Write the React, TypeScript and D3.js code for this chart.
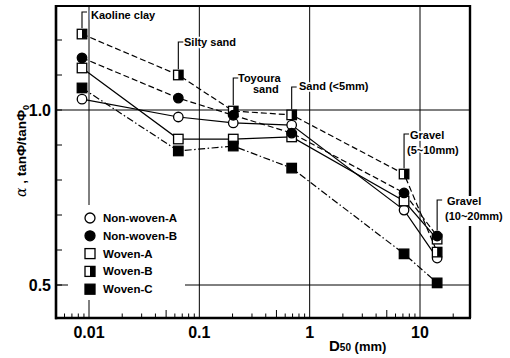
import React from 'react';
import * as d3 from 'd3';

// ---------- data ----------
const soilLabelLines = [
  ['Kaoline clay'],
  ['Silty sand'],
  ['Toyoura', 'sand'],
  ['Sand (<5mm)'],
  ['Gravel', '(5~10mm)'],
  ['Gravel', '(10~20mm)'],
];
const d50 = [0.00864, 0.0645, 0.203, 0.687, 7.17, 14.3];

const seriesNames = ['Non-woven-A', 'Non-woven-B', 'Woven-A', 'Woven-B', 'Woven-C'];
const nonWovenA = [1.031, 0.98, 0.963, 0.957, 0.714, 0.577];
const nonWovenB = [1.149, 1.034, 0.985, 0.934, 0.763, 0.64];
const wovenA = [1.12, 0.917, 0.917, 0.923, 0.74, 0.631];
const wovenB = [1.217, 1.1, 0.997, 0.986, 0.817, 0.594];
const wovenC = [1.063, 0.883, 0.897, 0.834, 0.589, 0.506];

const xTicks = [0.01, 0.1, 1, 10];
const xTickLabels = ['0.01', '0.1', '1', '10'];
const yTicks = [0.5, 1.0];
const yTickLabels = ['0.5', '1.0'];

// ---------- layout ----------
const W = 510, H = 358;
const L = 56, R = 470, T = 6, B = 318;
const FONT = '"Liberation Sans", Arial, Helvetica, sans-serif';

const x = d3.scaleLog().domain([0.01, 10]).range([89, 420]);
const y = d3.scaleLinear().domain([0.5, 1.0]).range([285, 110]);

type Marker = 'circleOpen' | 'circleFilled' | 'squareOpen' | 'squareHalf' | 'squareFilled';
const seriesValues = [nonWovenA, nonWovenB, wovenA, wovenB, wovenC];
const seriesMarker: Marker[] = ['circleOpen', 'circleFilled', 'squareOpen', 'squareHalf', 'squareFilled'];
const seriesDash = ['none', '6,3', 'none', '6,3', '7,2.5,1.5,2.5'];
const drawOrder = [0, 2, 3, 1, 4];

const labelLayout = [
  { hookTop: 12, tx: [91], ty: [19] },
  { hookTop: 42, tx: [184], ty: [46] },
  { hookTop: 78, tx: [238, 253], ty: [82, 93] },
  { hookTop: 87, tx: [299], ty: [90] },
  { hookTop: 134, tx: [410, 407], ty: [139, 154] },
  { hookTop: 200, tx: [447, 445], ty: [205, 220] },
];

function MarkerShape({ kind, cx, cy, s }: { kind: Marker; cx: number; cy: number; s: number }) {
  const h = s / 2;
  const sw = 1.3;
  if (kind === 'circleOpen')
    return <circle cx={cx} cy={cy} r={h} fill="#fff" stroke="#000" strokeWidth={sw} />;
  if (kind === 'circleFilled')
    return <circle cx={cx} cy={cy} r={h} fill="#000" stroke="#000" strokeWidth={sw} />;
  if (kind === 'squareOpen')
    return <rect x={cx - h} y={cy - h} width={s} height={s} fill="#fff" stroke="#000" strokeWidth={sw} />;
  if (kind === 'squareFilled')
    return <rect x={cx - h} y={cy - h} width={s} height={s} fill="#000" stroke="#000" strokeWidth={sw} />;
  return (
    <g>
      <rect x={cx - h} y={cy - h} width={s} height={s} fill="#fff" stroke="#000" strokeWidth={sw} />
      <rect x={cx} y={cy - h} width={h} height={s} fill="#000" />
    </g>
  );
}

export default function App() {
  const line = d3
    .line<number>()
    .x((_, i) => x(d50[i]))
    .y((v) => y(v));

  const minor: { v: number; big: boolean }[] = [];
  for (let e = -3; e <= 1; e++) {
    for (let m = 2; m <= 9; m++) {
      const v = m * Math.pow(10, e);
      const px = x(v);
      if (px > L + 1 && px < R - 1) minor.push({ v, big: m === 5 });
    }
  }
  const yMinor = d3.range(0.5, 1.31, 0.1).filter((v) => y(v) > T + 2 && y(v) < B - 2);

  const S = 9.5;
  const halo = { paintOrder: 'stroke' as const, stroke: '#fff', strokeWidth: 3.5, strokeLinejoin: 'round' as const };

  return (
    <svg width={W} height={H} style={{ position: 'absolute', left: 0, top: 0, background: '#fff' }}>
      <rect x={0} y={0} width={W} height={H} fill="#fff" />
      {xTicks.map((t) => (
        <line key={'gx' + t} x1={x(t)} x2={x(t)} y1={T} y2={B} stroke="#000" strokeWidth={1} />
      ))}
      {yTicks.map((t) => (
        <line key={'gy' + t} x1={L} x2={R} y1={y(t)} y2={y(t)} stroke="#000" strokeWidth={1} />
      ))}
      {minor.map((m, i) => (
        <line key={'mx' + i} x1={x(m.v)} x2={x(m.v)} y1={B} y2={B - (m.big ? 8 : 4.5)} stroke="#000" strokeWidth={1} />
      ))}
      {yMinor.map((v, i) => (
        <line key={'my' + i} x1={L} x2={L + 6} y1={y(v)} y2={y(v)} stroke="#000" strokeWidth={1} />
      ))}
      <rect x={68} y={205} width={117} height={95} fill="#fff" />
      {drawOrder.map((si) => (
        <path
          key={'l' + si}
          d={line(seriesValues[si]) || ''}
          fill="none"
          stroke="#000"
          strokeWidth={1.2}
          strokeDasharray={seriesDash[si] === 'none' ? undefined : seriesDash[si]}
        />
      ))}
      {drawOrder.map((si) => (
        <g key={'m' + si}>
          {seriesValues[si].map((v, i) => (
            <MarkerShape key={i} kind={seriesMarker[si]} cx={x(d50[i])} cy={y(v)} s={S} />
          ))}
        </g>
      ))}
      {soilLabelLines.map((lines, i) => {
        const lay = labelLayout[i];
        const px = x(d50[i]);
        const topVal = Math.max(...seriesValues.map((s) => s[i]));
        const topY = y(topVal) - S / 2 - 1;
        return (
          <g key={'sl' + i}>
            {lines.map((ln, j) => (
              <text
                key={j}
                x={lay.tx[j]}
                y={lay.ty[j]}
                fontFamily={FONT}
                fontWeight="bold"
                fontSize={11}
                fill="#000"
                style={halo}
              >
                {ln}
              </text>
            ))}
            <path
              d={`M${px},${topY} V${lay.hookTop} H${px + 5}`}
              fill="none"
              stroke="#000"
              strokeWidth={1.1}
            />
          </g>
        );
      })}
      <line x1={L} x2={R} y1={T} y2={T} stroke="#000" strokeWidth={2.2} />
      <line x1={L} x2={L} y1={T - 1} y2={B + 1.2} stroke="#000" strokeWidth={2.6} />
      <line x1={L - 1} x2={R + 1} y1={B} y2={B} stroke="#000" strokeWidth={2.6} />
      <line x1={R} x2={R} y1={T - 1} y2={196} stroke="#000" strokeWidth={2.4} />
      <line x1={R} x2={R} y1={226} y2={B} stroke="#000" strokeWidth={2.4} />
      {seriesNames.map((n, i) => {
        const ly = 218 + i * 17.8;
        return (
          <g key={'lg' + i}>
            <MarkerShape kind={seriesMarker[i]} cx={90} cy={ly} s={10} />
            <text x={103} y={ly + 4} fontFamily={FONT} fontWeight="bold" fontSize={11.5} fill="#000">
              {n}
            </text>
          </g>
        );
      })}
      {xTicks.map((t, i) => (
        <text
          key={'xt' + t}
          x={x(t)}
          y={338}
          textAnchor="middle"
          fontFamily={FONT}
          fontWeight="bold"
          fontSize={16}
          fill="#000"
        >
          {xTickLabels[i]}
        </text>
      ))}
      {yTicks.map((t, i) => (
        <text
          key={'yt' + t}
          x={51}
          y={y(t) + 6}
          textAnchor="end"
          fontFamily={FONT}
          fontWeight="bold"
          fontSize={16}
          fill="#000"
        >
          {yTickLabels[i]}
        </text>
      ))}
      <text x={329} y={351} fontFamily={FONT} fontWeight="bold" fill="#000">
        <tspan fontSize={15}>D</tspan>
        <tspan fontSize={10}>50</tspan>
        <tspan fontSize={13}> (mm)</tspan>
      </text>
      <text
        transform="translate(26,151) rotate(-90)"
        textAnchor="middle"
        fontFamily={FONT}
        fontWeight="bold"
        fill="#000"
      >
        <tspan fontFamily='"DejaVu Serif", serif' fontStyle="italic" fontWeight="normal" fontSize={14}>
          α
        </tspan>
        <tspan fontSize={13.5}> , tanΦ/tanΦ</tspan>
        <tspan fontSize={9} dy={2.5}>0</tspan>
      </text>
    </svg>
  );
}
